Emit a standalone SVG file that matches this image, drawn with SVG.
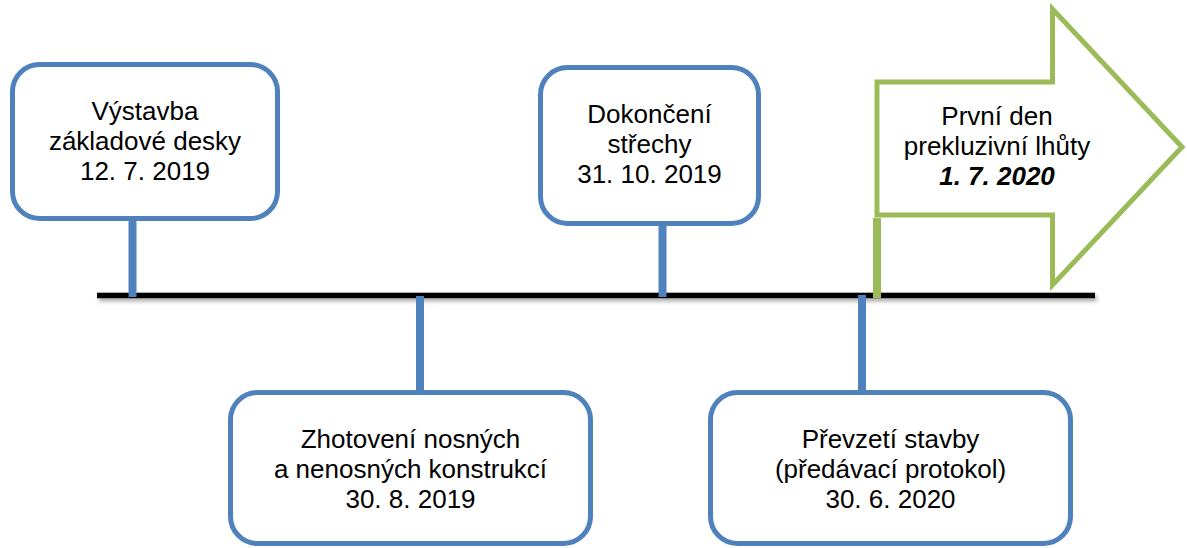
<svg xmlns="http://www.w3.org/2000/svg" width="1187" height="548" viewBox="0 0 1187 548">
  <defs>
    <filter id="shadow" filterUnits="userSpaceOnUse" x="80" y="280" width="1040" height="40">
      <feDropShadow dx="2" dy="3" stdDeviation="2" flood-color="#000" flood-opacity="0.35"/>
    </filter>
  </defs>
  <style>
    .box { fill: #ffffff; stroke: #4F81BD; stroke-width: 5; }
    .stem { stroke: #4F81BD; stroke-width: 8; }
    .gstem { stroke: #9BBB59; stroke-width: 8; }
    .arrow { fill: #ffffff; stroke: #9BBB59; stroke-width: 5; stroke-linejoin: miter; }
    .t { font-family: "Liberation Sans", Arial, sans-serif; font-size: 26px; fill: #000; text-anchor: middle; }
    .b { font-weight: bold; font-style: italic; }
  </style>
  <rect width="1187" height="548" fill="#ffffff"/>

  <g id="timeline">
    <rect x="97" y="292.7" width="998" height="5.5" fill="#000" filter="url(#shadow)"/>
  </g>

  <g id="connectors">
    <line class="stem" x1="132.5" y1="219" x2="132.5" y2="297"/>
    <line class="stem" x1="662.5" y1="224" x2="662.5" y2="297"/>
    <line class="stem" x1="420" y1="296" x2="420" y2="391"/>
    <line class="stem" x1="862" y1="295" x2="862" y2="391"/>
  </g>

  <g id="node1">
    <rect class="box" x="12.5" y="64.5" width="265" height="154" rx="27" ry="27"/>
    <text class="t" x="145" y="120">Výstavba</text>
    <text class="t" x="145" y="150">základové desky</text>
    <text class="t" x="145" y="180">12. 7. 2019</text>
  </g>

  <g id="node2">
    <rect class="box" x="540.5" y="67.5" width="218" height="156" rx="27" ry="27"/>
    <text class="t" x="649.5" y="123">Dokončení</text>
    <text class="t" x="649.5" y="153">střechy</text>
    <text class="t" x="649.5" y="183">31. 10. 2019</text>
  </g>

  <g id="node3">
    <rect class="box" x="230.5" y="392.5" width="360" height="151" rx="27" ry="27"/>
    <text class="t" x="410.5" y="448">Zhotovení nosných</text>
    <text class="t" x="410.5" y="478">a nenosných konstrukcí</text>
    <text class="t" x="410.5" y="508">30. 8. 2019</text>
  </g>

  <g id="node4">
    <rect class="box" x="710.5" y="392.5" width="360" height="151" rx="27" ry="27"/>
    <text class="t" x="890.5" y="448">Převzetí stavby</text>
    <text class="t" x="890.5" y="478">(předávací protokol)</text>
    <text class="t" x="890.5" y="508">30. 6. 2020</text>
  </g>

  <g id="node5">
    <polygon class="arrow" points="877,82 1052.5,82 1052.5,9 1182,147 1052.5,285 1052.5,215 877,215"/>
    <line class="gstem" x1="877" y1="218" x2="877" y2="298"/>
    <text class="t" x="997" y="125">První den</text>
    <text class="t" x="997" y="155">prekluzivní lhůty</text>
    <text class="t b" x="997" y="185">1. 7. 2020</text>
  </g>
</svg>
